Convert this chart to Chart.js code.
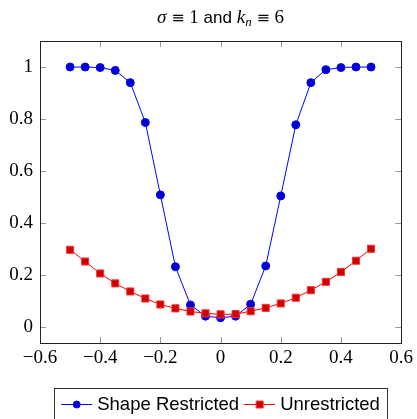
<!DOCTYPE html>
<html>
<head>
<meta charset="utf-8">
<script src="https://cdn.jsdelivr.net/npm/chart.js@4"></script>
<style>
  html, body { margin: 0; padding: 0; background: #fff; }
  #wrap { width: 417px; height: 419px; }
</style>
</head>
<body>
<div id="wrap"><canvas id="myLineChart" width="417" height="419"></canvas></div>
<script>
const x_values = [-0.5, -0.45, -0.4, -0.35, -0.3, -0.25, -0.2, -0.15, -0.1, -0.05, 0,
                  0.05, 0.1, 0.15, 0.2, 0.25, 0.3, 0.35, 0.4, 0.45, 0.5];
const shape_restricted = [1.0, 1.0, 0.998, 0.987, 0.94, 0.787, 0.509, 0.233, 0.086, 0.043, 0.037,
                          0.043, 0.089, 0.236, 0.505, 0.778, 0.94, 0.99, 0.998, 1.0, 1.0];
const unrestricted = [0.298, 0.253, 0.207, 0.169, 0.138, 0.111, 0.088, 0.073, 0.061, 0.054, 0.050,
                      0.051, 0.062, 0.075, 0.092, 0.114, 0.143, 0.175, 0.213, 0.256, 0.302];
const x_ticks = [-0.6, -0.4, -0.2, 0, 0.2, 0.4, 0.6];
const y_ticks = [0, 0.2, 0.4, 0.6, 0.8, 1];
const series_labels = ['Shape Restricted', 'Unrestricted'];

const serif = '"Liberation Serif", "DejaVu Serif", serif';
const sans = '"Liberation Sans", Arial, sans-serif';
const symb = '"DejaVu Serif", serif';

function fmt(v) {
    const s = String(Math.round(v * 10) / 10);
    return s.replace('-', '\u2212');
}

// title with math-like pieces
const titlePlugin = {
    id: 'mathTitle',
    afterDraw(chart) {
        const ctx = chart.ctx;
        const area = chart.chartArea;
        const pieces = [
            { t: '\u03c3', f: 'italic 19px ' + serif, dy: 0 },
            { t: ' ', f: '19px ' + serif, dy: 0 },
            { t: '\u2261', f: '16px ' + symb, dy: 0 },
            { t: ' 1 ', f: '19px ' + serif, dy: 0 },
            { t: 'and', f: '17px ' + sans, dy: 0 },
            { t: ' ', f: '19px ' + serif, dy: 0 },
            { t: 'k', f: 'italic 19px ' + serif, dy: 0 },
            { t: 'n', f: 'italic 13px ' + serif, dy: 3 },
            { t: ' ', f: '19px ' + serif, dy: 0 },
            { t: '\u2261', f: '16px ' + symb, dy: 0 },
            { t: ' 6', f: '19px ' + serif, dy: 0 }
        ];
        ctx.save();
        let total = 0;
        pieces.forEach(p => { ctx.font = p.f; p.w = ctx.measureText(p.t).width; total += p.w; });
        let x = (area.left + area.right) / 2 - total / 2;
        ctx.fillStyle = '#000';
        ctx.textBaseline = 'alphabetic';
        pieces.forEach(p => {
            ctx.font = p.f;
            ctx.fillText(p.t, x, 23 + p.dy);
            x += p.w;
        });
        ctx.restore();
    }
};

// frame and inward ticks on all four sides
const framePlugin = {
    id: 'frame',
    afterDatasetsDraw(chart) {
        const ctx = chart.ctx;
        const a = chart.chartArea;
        const xs = chart.scales.x, ys = chart.scales.y;
        const len = 6;
        ctx.save();
        ctx.lineWidth = 1;
        ctx.strokeStyle = '#999';
        ctx.beginPath();
        x_ticks.forEach(v => {
            const px = Math.round(xs.getPixelForValue(v)) + 0.5;
            if (px <= a.left + 1 || px >= a.right - 1) return;
            ctx.moveTo(px, a.bottom); ctx.lineTo(px, a.bottom - len);
            ctx.moveTo(px, a.top); ctx.lineTo(px, a.top + len);
        });
        y_ticks.forEach(v => {
            const py = Math.round(ys.getPixelForValue(v)) + 0.5;
            ctx.moveTo(a.left, py); ctx.lineTo(a.left + len, py);
            ctx.moveTo(a.right, py); ctx.lineTo(a.right - len, py);
        });
        ctx.stroke();
        ctx.strokeStyle = '#222';
        ctx.strokeRect(Math.round(a.left) + 0.5, Math.round(a.top) + 0.5,
                       Math.round(a.right - a.left), Math.round(a.bottom - a.top));
        ctx.restore();
    }
};

// boxed legend below the axes, line + marker samples
const legendPlugin = {
    id: 'boxLegend',
    afterDraw(chart) {
        const ctx = chart.ctx;
        const a = chart.chartArea;
        const cy = 404;
        const sample = 31, gap = 5, pad = 7;
        ctx.save();
        ctx.font = '18.5px ' + sans;
        const items = chart.data.datasets.map(ds => ({ ds, w: ctx.measureText(ds.label).width }));
        let total = 0;
        items.forEach((it, i) => { total += sample + gap + it.w + (i < items.length - 1 ? gap : 0); });
        const left = (a.left + a.right) / 2 - total / 2;
        ctx.strokeStyle = '#333';
        ctx.lineWidth = 1;
        ctx.strokeRect(Math.round(left - pad) + 0.5, 388.5, Math.round(total + 2 * pad), 40);
        let x = left;
        items.forEach(it => {
            const ds = it.ds;
            ctx.strokeStyle = ds.borderColor;
            ctx.beginPath();
            ctx.moveTo(x, cy + 0.5); ctx.lineTo(x + sample, cy + 0.5);
            ctx.stroke();
            const mx = x + sample / 2;
            ctx.fillStyle = ds.pointBackgroundColor;
            ctx.strokeStyle = ds.pointBorderColor;
            ctx.beginPath();
            if (ds.pointStyle === 'rect') {
                ctx.rect(mx - 3.5, cy - 3, 7, 7);
            } else {
                ctx.arc(mx, cy + 0.5, 3.5, 0, Math.PI * 2);
            }
            ctx.fill(); ctx.stroke();
            x += sample + gap;
            ctx.fillStyle = '#000';
            ctx.textBaseline = 'middle';
            ctx.fillText(ds.label, x, cy + 1);
            x += it.w + gap;
        });
        ctx.restore();
    }
};

const ctx = document.getElementById('myLineChart').getContext('2d');
const myLineChart = new Chart(ctx, {
    type: 'line',
    data: {
        datasets: [{
            label: series_labels[0],
            data: x_values.map((x, i) => ({ x: x, y: shape_restricted[i] })),
            borderColor: '#0000ff',
            borderWidth: 1,
            pointStyle: 'circle',
            pointRadius: 4,
            pointBackgroundColor: '#0000cc',
            pointBorderColor: '#0000ff',
            pointBorderWidth: 1,
            tension: 0,
            order: 1
        }, {
            label: series_labels[1],
            data: x_values.map((x, i) => ({ x: x, y: unrestricted[i] })),
            borderColor: '#ff0000',
            borderWidth: 1,
            pointStyle: 'rect',
            pointRadius: 5,
            pointBackgroundColor: '#cc0000',
            pointBorderColor: '#ff3030',
            pointBorderWidth: 1,
            tension: 0,
            order: 0
        }]
    },
    options: {
        responsive: false,
        animation: false,
        events: [],
        layout: { padding: { left: 0, right: 14, top: 41, bottom: 46 } },
        plugins: {
            legend: { display: false },
            title: { display: false },
            tooltip: { enabled: false }
        },
        scales: {
            x: {
                type: 'linear',
                min: -0.6,
                max: 0.6,
                grid: { display: false, drawTicks: false },
                border: { display: false },
                afterBuildTicks: s => { s.ticks = x_ticks.map(v => ({ value: v })); },
                afterFit: s => { s.height = 30; },
                ticks: {
                    color: '#000',
                    padding: 4,
                    maxRotation: 0,
                    autoSkip: false,
                    font: { family: serif, size: 19 },
                    callback: v => fmt(v)
                }
            },
            y: {
                type: 'linear',
                min: -0.06,
                max: 1.1,
                grid: { display: false, drawTicks: false },
                border: { display: false },
                afterBuildTicks: s => { s.ticks = y_ticks.map(v => ({ value: v })); },
                afterFit: s => { s.width = 40; },
                ticks: {
                    color: '#000',
                    padding: 7,
                    autoSkip: false,
                    font: { family: serif, size: 19 },
                    callback: v => fmt(v)
                }
            }
        }
    },
    plugins: [titlePlugin, framePlugin, legendPlugin]
});
</script>
</body>
</html>
